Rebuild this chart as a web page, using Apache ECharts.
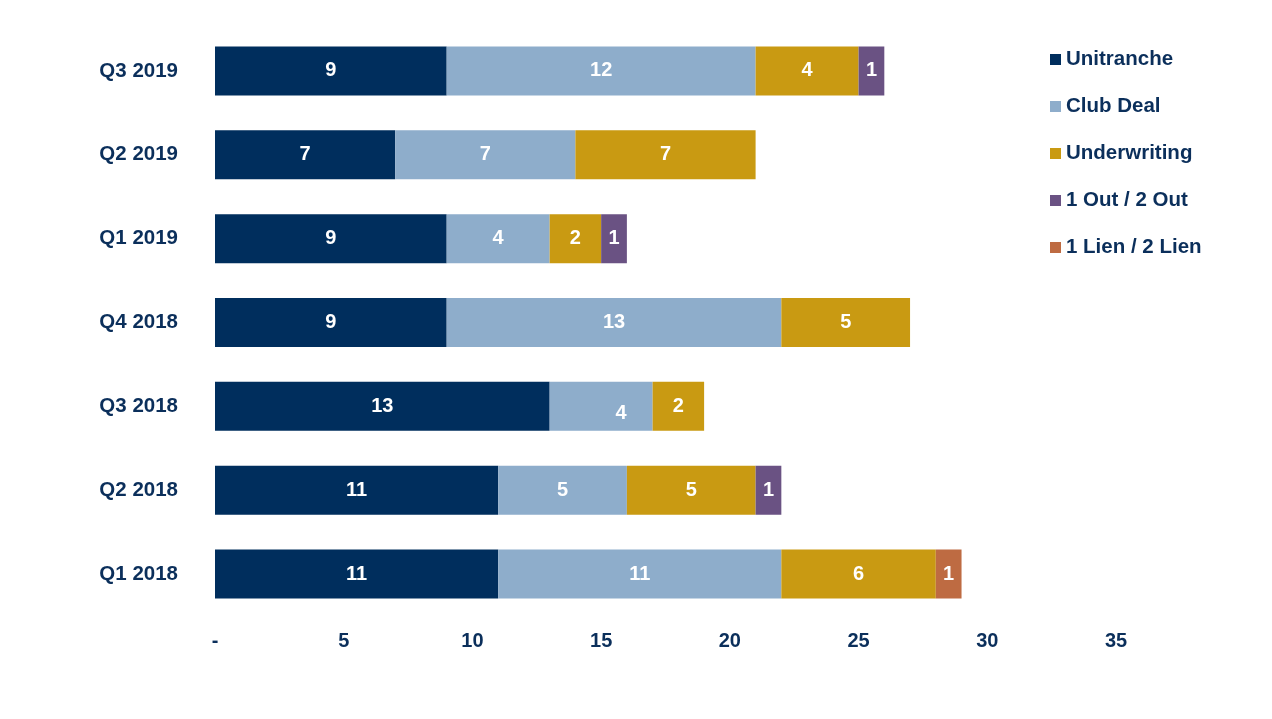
<!DOCTYPE html>
<html>
<head>
<meta charset="utf-8">
<script src="https://cdn.jsdelivr.net/npm/echarts@6/dist/echarts.min.js"></script>
<style>
  html, body { margin: 0; padding: 0; background: #fff; }
  #chart { width: 1272px; height: 719px; }
</style>
</head>
<body>
<div id="chart"></div>
<script>
var quarters = ['Q1 2018', 'Q2 2018', 'Q3 2018', 'Q4 2018', 'Q1 2019', 'Q2 2019', 'Q3 2019'];
var unitranche = [11, 11, 13, 9, 9, 7, 9];
var clubDeal = [11, 5, 4, 13, 4, 7, 12];
var underwriting = [6, 5, 2, 5, 2, 7, 4];
var outSplit = [0, 1, 0, 0, 1, 0, 1];
var lienSplit = [1, 0, 0, 0, 0, 0, 0];

var seriesNames = ['Unitranche', 'Club Deal', 'Underwriting', '1 Out / 2 Out', '1 Lien / 2 Lien'];
var seriesColors = ['#002E5D', '#8EADCB', '#C99A12', '#6A5283', '#BE6B42'];
var seriesData = [unitranche, clubDeal, underwriting, outSplit, lienSplit];

var navy = '#0B2F5B';
var font = 'Liberation Sans, Arial, sans-serif';

var chart = echarts.init(document.getElementById('chart'));

var series = seriesData.map(function (vals, i) {
  return {
    name: seriesNames[i],
    type: 'bar',
    stack: 'total',
    barWidth: 49,
    itemStyle: { color: seriesColors[i] },
    label: {
      show: true,
      position: 'inside',
      color: '#fff',
      fontFamily: font,
      fontWeight: 'bold',
      fontSize: 20,
      formatter: function (p) { return p.value ? p.value : ''; }
    },
    data: vals.map(function (v, j) {
      // the Q3 2018 club deal label sits off-centre in the original
      if (i === 1 && j === 2) return { value: v, label: { offset: [20, 7] } };
      return v;
    })
  };
});

chart.setOption({
  animation: false,
  grid: { left: 215, right: 156, top: 29, bottom: 103 },
  legend: {
    orient: 'vertical',
    left: 1045,
    top: 44,
    itemWidth: 11,
    itemHeight: 11,
    itemGap: 26,
    icon: 'rect',
    textStyle: { color: navy, fontFamily: font, fontWeight: 'bold', fontSize: 20.5 },
    data: seriesNames
  },
  xAxis: {
    type: 'value',
    min: 0,
    max: 35,
    interval: 5,
    axisLine: { show: false },
    axisTick: { show: false },
    splitLine: { show: false },
    axisLabel: {
      color: navy,
      fontFamily: font,
      fontWeight: 'bold',
      fontSize: 20,
      margin: 15,
      formatter: function (v) { return v === 0 ? '-' : v; }
    }
  },
  yAxis: {
    type: 'category',
    data: quarters,
    axisLine: { show: false },
    axisTick: { show: false },
    axisLabel: {
      color: navy,
      fontFamily: font,
      fontWeight: 'bold',
      fontSize: 20.5,
      margin: 37
    }
  },
  series: series
});
</script>
</body>
</html>
